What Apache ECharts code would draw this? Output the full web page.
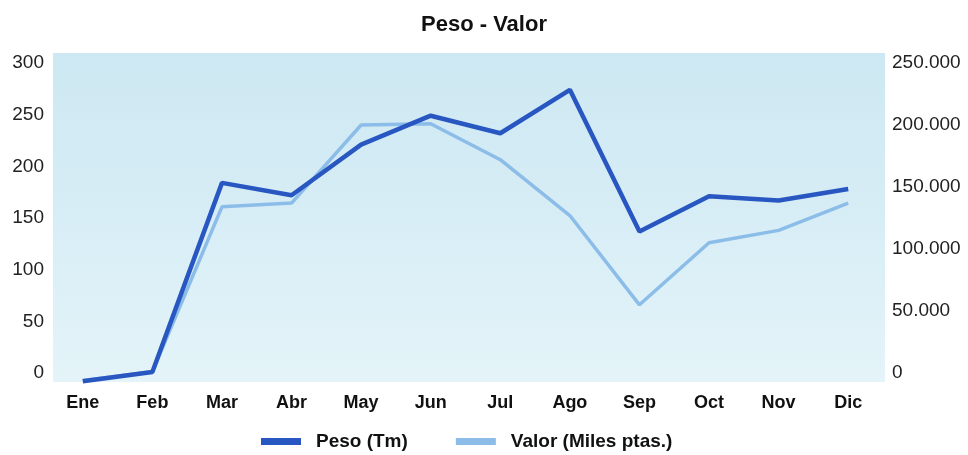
<!DOCTYPE html>
<html>
<head>
<meta charset="utf-8">
<script src="https://cdn.jsdelivr.net/npm/echarts@6/dist/echarts.min.js"></script>
<style>
  html, body { margin: 0; padding: 0; background: #fff; }
  #main { width: 968px; height: 455px; }
</style>
</head>
<body>
<div id="main"></div>
<script>
// meses
var meses = ['Ene', 'Feb', 'Mar', 'Abr', 'May', 'Jun', 'Jul', 'Ago', 'Sep', 'Oct', 'Nov', 'Dic'];
// Peso en toneladas (eje izquierdo)
var peso = [-8, 1, 184, 172, 221, 249, 232, 274, 137, 171, 167, 178];
// Valor en miles de pesetas (eje derecho)
var valor = [-6000, 1000, 134000, 137000, 200000, 201000, 172000, 127000, 55000, 105000, 115000, 137000];

var myChart = echarts.init(document.getElementById('main'));

var option = {
    animation: false,
    title: {
        text: 'Peso - Valor',
        left: 'center',
        top: 9,
        textStyle: { fontFamily: 'Liberation Sans', fontSize: 22, fontWeight: 'bold', color: '#111' }
    },
    // fondo azul claro del área de trazado
    graphic: [{
        type: 'rect',
        z: -10,
        shape: { x: 53, y: 53, width: 832, height: 329 },
        style: {
            fill: new echarts.graphic.LinearGradient(0, 0, 0, 1, [
                { offset: 0, color: '#cde8f2' },
                { offset: 0.4, color: '#d5ecf5' },
                { offset: 1, color: '#e4f4f9' }
            ])
        }
    }],
    legend: {
        top: 427,
        left: 256,
        itemWidth: 40,
        itemHeight: 7,
        itemGap: 48,
        icon: 'rect',
        textStyle: { fontFamily: 'Liberation Sans', fontSize: 19, fontWeight: 'bold', color: '#111', padding: [0, 0, 0, 10] },
        data: ['Peso (Tm)', 'Valor (Miles ptas.)']
    },
    grid: { left: 48, right: 85, top: 63, bottom: 82 },
    xAxis: {
        type: 'category',
        data: meses,
        axisLine: { show: false },
        axisTick: { show: false },
        axisLabel: { margin: 21, fontFamily: 'Liberation Sans', fontSize: 18, fontWeight: 'bold', color: '#111' }
    },
    yAxis: [{
        type: 'value',
        min: 0, max: 300, interval: 50,
        splitLine: { show: false },
        axisLine: { show: false },
        axisLabel: { margin: 4, fontFamily: 'Liberation Sans', fontSize: 19, color: '#222' }
    }, {
        type: 'value',
        min: 0, max: 250000, interval: 50000,
        splitLine: { show: false },
        axisLine: { show: false },
        axisLabel: {
            margin: 9, fontFamily: 'Liberation Sans', fontSize: 19, color: '#222',
            formatter: function (v) {
                return String(v).replace(/\B(?=(\d{3})+(?!\d))/g, '.');
            }
        }
    }],
    series: [{
        name: 'Valor (Miles ptas.)',
        type: 'line',
        yAxisIndex: 1,
        data: valor,
        showSymbol: false,
        clip: false,
        z: 2,
        itemStyle: { color: '#8cbde9' },
        lineStyle: { width: 3.5, color: '#8cbde9' }
    }, {
        name: 'Peso (Tm)',
        type: 'line',
        yAxisIndex: 0,
        data: peso,
        showSymbol: false,
        clip: false,
        z: 3,
        itemStyle: { color: '#2857c2' },
        lineStyle: { width: 4.5, color: '#2857c2' }
    }]
};

myChart.setOption(option);
</script>
</body>
</html>
